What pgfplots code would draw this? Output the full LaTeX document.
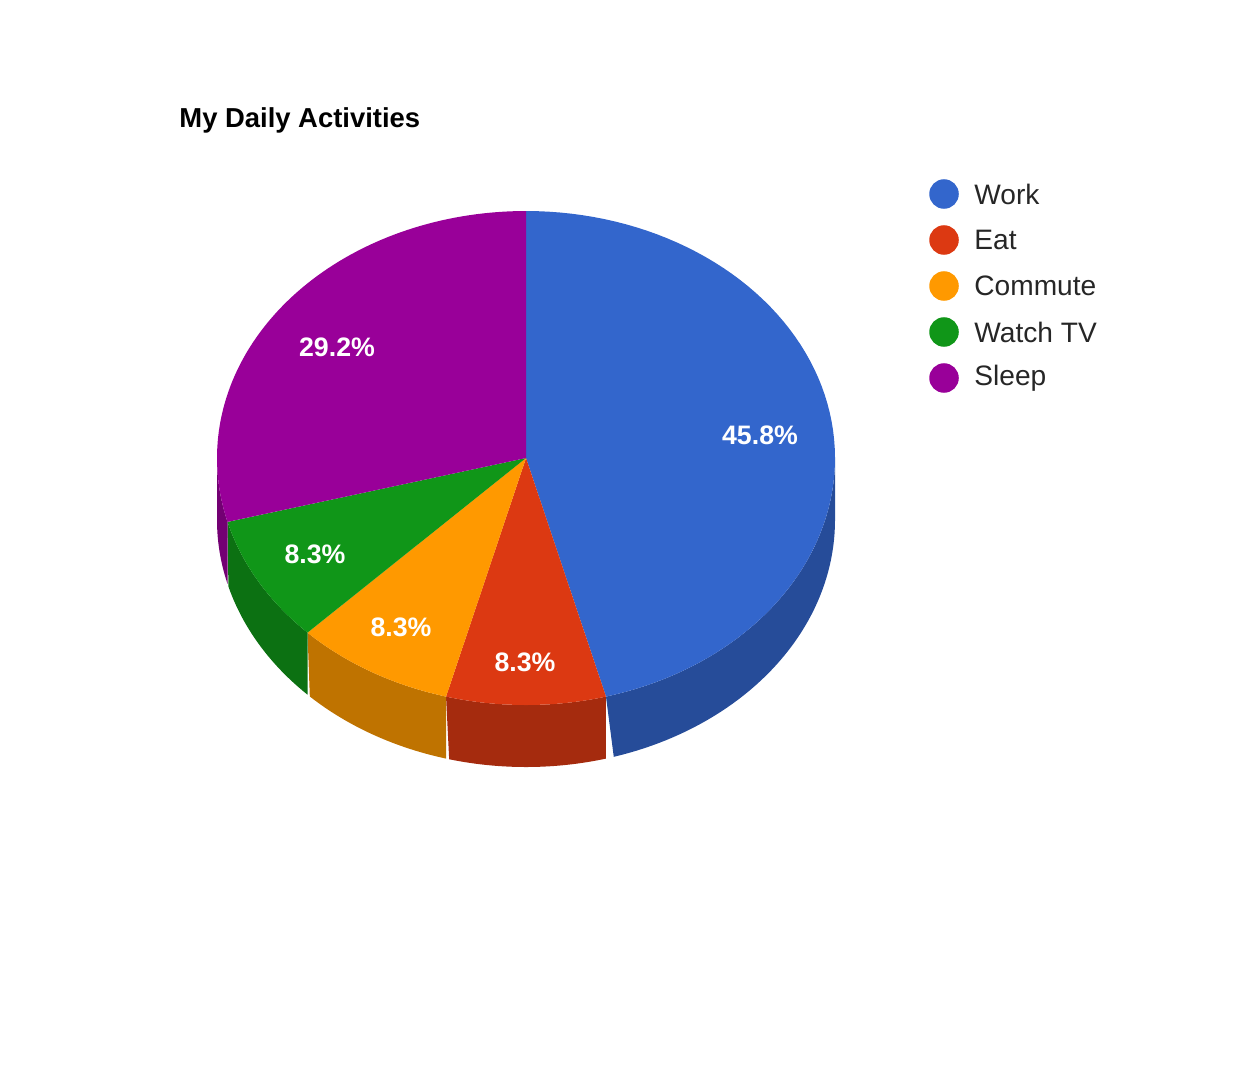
\documentclass[border=0pt]{standalone}
\usepackage{pgfplots}
\pgfplotsset{compat=1.18}
\usepackage{fontspec}
\setmainfont{Liberation Sans}
\definecolor{cWork}{HTML}{3366CC}\definecolor{dWork}{HTML}{264C99}
\definecolor{cEat}{HTML}{DC3912}\definecolor{dEat}{HTML}{A52B0E}
\definecolor{cCom}{HTML}{FF9900}\definecolor{dCom}{HTML}{BF7300}
\definecolor{cTV}{HTML}{109618}\definecolor{dTV}{HTML}{0C7112}
\definecolor{cSl}{HTML}{990099}\definecolor{dSl}{HTML}{730073}
\def\cx{526}\def\cy{632}\def\rx{309}\def\ry{247}\def\dep{62}
% hours per activity
\def\vWork{11}\def\vEat{2}\def\vCom{2}\def\vTV{2}\def\vSl{7}
\pgfmathsetmacro\aA{90}
\pgfmathsetmacro\aB{\aA-\vWork*15}
\pgfmathsetmacro\aC{\aB-\vEat*15}
\pgfmathsetmacro\aD{\aC-\vCom*15}
\pgfmathsetmacro\aE{\aD-\vTV*15}
\pgfmathsetmacro\aF{\aE-\vSl*15}
\newcommand\pieside[3]{% color, A, B
\addplot[fill=#1,draw=none,samples=101,domain=0:2]
 ({\cx+\rx*cos((x<=1)?(#2+(#3-#2)*x):(#3+(#2-#3)*(x-1)))},
  {\cy+\ry*sin((x<=1)?(#2+(#3-#2)*x):(#3+(#2-#3)*(x-1)))-((x>1)?\dep:0)}) -- cycle;}
\newcommand\pietop[3]{%
\addplot[fill=#1,draw=none,samples=80,domain=#2:#3]
 ({\cx+\rx*cos(x)},{\cy+\ry*sin(x)}) -- (axis cs:\cx,\cy) -- cycle;}
\newcommand\lab[3]{\node[text=white,font=\fontsize{7.6}{9}\selectfont\bfseries] at (axis cs:#1,#2) {#3};}
\newcommand\leg[3]{\addplot[only marks,mark=*,mark size=4pt,color=#1] coordinates {(944,#2)};
\node[anchor=west,text=black!85,font=\fontsize{8}{9}\selectfont] at (axis cs:962,#2) {#3};}
\begin{document}
\begin{tikzpicture}
\begin{axis}[width=12.48cm,height=10.9cm,scale only axis,xmin=0,xmax=1248,ymin=0,ymax=1090,hide axis,clip=false]
\path (axis cs:0,0) rectangle (axis cs:1248,1090);
\pieside{dWork}{0}{\aB}
\pieside{dEat}{\aB}{\aC}
\pieside{dCom}{\aC}{\aD}
\pieside{dTV}{\aD}{\aE}
\pieside{dSl}{\aE}{-180}
\pietop{cWork}{\aB}{\aA}
\pietop{cEat}{\aC}{\aB}
\pietop{cCom}{\aD}{\aC}
\pietop{cTV}{\aE}{\aD}
\pietop{cSl}{\aF}{\aE}
\lab{760}{655}{45.8\%}
\lab{525}{428}{8.3\%}
\lab{401}{463}{8.3\%}
\lab{315}{536}{8.3\%}
\lab{337}{743}{29.2\%}
\node[anchor=west,font=\fontsize{7.8}{9}\selectfont\bfseries] at (axis cs:167,970) {My Daily Activities};
\leg{cWork}{896}{Work}
\leg{cEat}{850}{Eat}
\leg{cCom}{804}{Commute}
\leg{cTV}{758}{Watch TV}
\leg{cSl}{712}{Sleep}
\end{axis}
\end{tikzpicture}
\end{document}
